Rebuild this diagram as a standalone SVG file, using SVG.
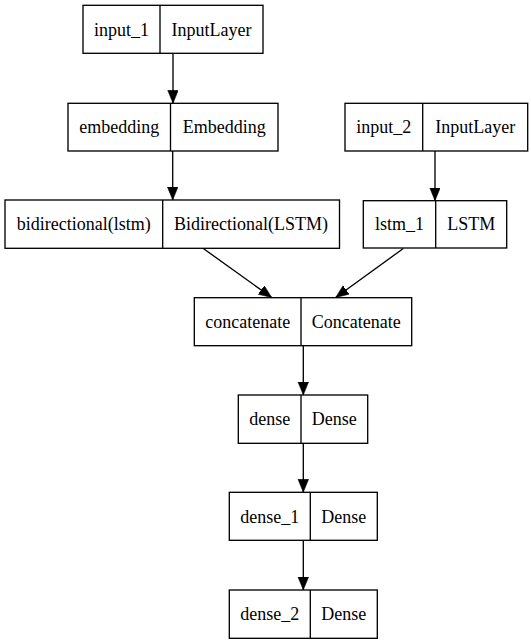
<svg xmlns="http://www.w3.org/2000/svg" width="531" height="644" viewBox="0 0 531 644">
<style>
.box{fill:#fff;stroke:#000;stroke-width:1.33}
.div{stroke:#000;stroke-width:1.33}
text{font-family:"Liberation Serif","Times New Roman",serif;font-size:18px;text-anchor:middle;fill:#000}
.edge{stroke:#000;stroke-width:1.33;fill:none}
</style>
<defs>
<marker id="ah" markerUnits="userSpaceOnUse" markerWidth="14" markerHeight="12" refX="13" refY="5.3" orient="auto">
<path d="M0,0 L13,5.3 L0,10.6 z" fill="#000" stroke="#000" stroke-width="0.5"/>
</marker>
</defs>
<rect width="531" height="644" fill="#fff"/>
<g id="connectors">
<line class="edge" x1="173" y1="53.3" x2="173" y2="103.3" marker-end="url(#ah)"/>
<line class="edge" x1="172.7" y1="151" x2="172.7" y2="200" marker-end="url(#ah)"/>
<line class="edge" x1="435" y1="151" x2="435" y2="200.7" marker-end="url(#ah)"/>
<line class="edge" x1="203.3" y1="248.5" x2="271.7" y2="297.5" marker-end="url(#ah)"/>
<line class="edge" x1="403.3" y1="248.5" x2="335.7" y2="297.5" marker-end="url(#ah)"/>
<line class="edge" x1="303.3" y1="345.7" x2="303.3" y2="395" marker-end="url(#ah)"/>
<line class="edge" x1="303.3" y1="443.3" x2="303.3" y2="492.3" marker-end="url(#ah)"/>
<line class="edge" x1="303.3" y1="540.3" x2="303.3" y2="590" marker-end="url(#ah)"/>
</g>
<g id="input_1">
<rect class="box" x="83" y="5.3" width="180" height="48"/>
<line class="div" x1="160" y1="5.3" x2="160" y2="53.3"/>
<text x="121.5" y="35.5">input_1</text>
<text x="211.5" y="35.5">InputLayer</text>
</g>
<g id="embedding">
<rect class="box" x="68" y="103.3" width="210" height="47.7"/>
<line class="div" x1="170.5" y1="103.3" x2="170.5" y2="151"/>
<text x="119.25" y="133.3">embedding</text>
<text x="224.25" y="133.3">Embedding</text>
</g>
<g id="bidirectional">
<rect class="box" x="5" y="200" width="334.5" height="48.3"/>
<line class="div" x1="162.7" y1="200" x2="162.7" y2="248.3"/>
<text x="83.8" y="230.3">bidirectional(lstm)</text>
<text x="251.1" y="230.3">Bidirectional(LSTM)</text>
</g>
<g id="input_2">
<rect class="box" x="345" y="103.3" width="182.7" height="47.7"/>
<line class="div" x1="422.7" y1="103.3" x2="422.7" y2="151"/>
<text x="383.8" y="133.3">input_2</text>
<text x="475.2" y="133.3">InputLayer</text>
</g>
<g id="lstm_1">
<rect class="box" x="363.3" y="200.7" width="143.4" height="47.3"/>
<line class="div" x1="435.7" y1="200.7" x2="435.7" y2="248"/>
<text x="399.5" y="230.3">lstm_1</text>
<text x="471.2" y="230.3">LSTM</text>
</g>
<g id="concatenate">
<rect class="box" x="194.3" y="297.7" width="217.4" height="48"/>
<line class="div" x1="301" y1="297.7" x2="301" y2="345.7"/>
<text x="247.7" y="328">concatenate</text>
<text x="356.3" y="328">Concatenate</text>
</g>
<g id="dense">
<rect class="box" x="238.3" y="395" width="129.4" height="48.3"/>
<line class="div" x1="301" y1="395" x2="301" y2="443.3"/>
<text x="269.7" y="425.3">dense</text>
<text x="334.3" y="425.3">Dense</text>
</g>
<g id="dense_1">
<rect class="box" x="229.3" y="492.3" width="148" height="48"/>
<line class="div" x1="310.3" y1="492.3" x2="310.3" y2="540.3"/>
<text x="269.8" y="522.5">dense_1</text>
<text x="343.8" y="522.5">Dense</text>
</g>
<g id="dense_2">
<rect class="box" x="229.3" y="590" width="148" height="48.3"/>
<line class="div" x1="310.3" y1="590" x2="310.3" y2="638.3"/>
<text x="269.8" y="620.3">dense_2</text>
<text x="343.8" y="620.3">Dense</text>
</g>
</svg>
